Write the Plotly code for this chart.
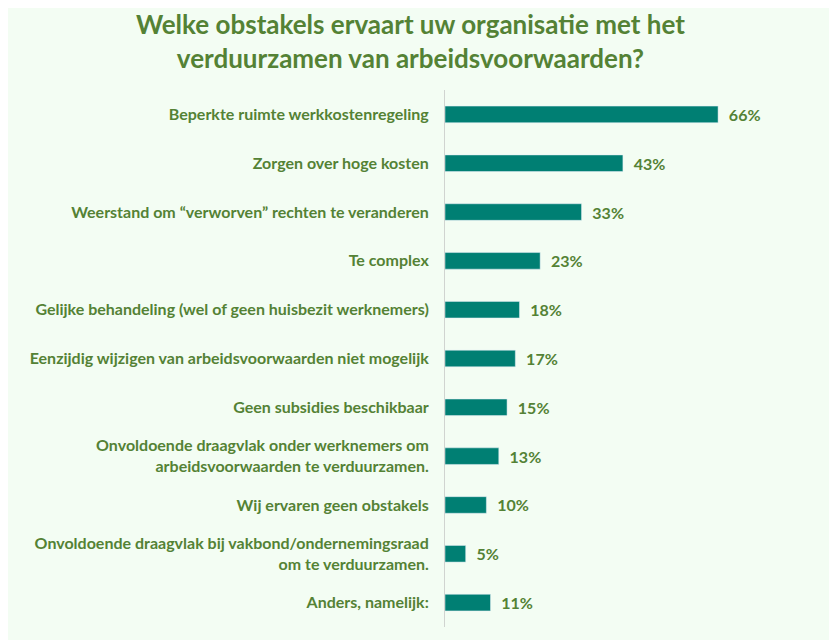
import plotly.graph_objects as go

categories = [
    "Beperkte ruimte werkkostenregeling",
    "Zorgen over hoge kosten",
    "Weerstand om “verworven” rechten te veranderen",
    "Te complex",
    "Gelijke behandeling (wel of geen huisbezit werknemers)",
    "Eenzijdig wijzigen van arbeidsvoorwaarden niet mogelijk",
    "Geen subsidies beschikbaar",
    "Onvoldoende draagvlak onder werknemers om<br>arbeidsvoorwaarden te verduurzamen.",
    "Wij ervaren geen obstakels",
    "Onvoldoende draagvlak bij vakbond/ondernemingsraad<br>om te verduurzamen.",
    "Anders, namelijk:",
]
values = [66, 43, 33, 23, 18, 17, 15, 13, 10, 5, 11]
value_labels = [f"\u00a0\u00a0{v}%" for v in values]

title_text = "Welke obstakels ervaart uw organisatie met het<br>verduurzamen van arbeidsvoorwaarden?"

green = "#548235"
bar_color = "#007F73"
bg = "#F3FDF3"

fig = go.Figure(go.Bar(
    x=values,
    y=categories,
    orientation="h",
    marker=dict(color=bar_color),
    width=0.34,
    text=value_labels,
    textposition="outside",
    constraintext="none",
    textfont=dict(family="Lato", size=16, color=green, weight="bold"),
    cliponaxis=False,
    hoverinfo="skip",
))

fig.add_annotation(
    text=title_text, xref="paper", yref="paper",
    x=-0.103, y=1.092, xanchor="center", yanchor="middle",
    showarrow=False, align="center",
    font=dict(family="Lato", size=26, color=green, weight="bold"),
)

fig.update_layout(
    width=837, height=640,
    paper_bgcolor=bg, plot_bgcolor=bg,
    margin=dict(l=437, r=69, t=82, b=21, autoexpand=False),
    showlegend=False,
    xaxis=dict(range=[0, 80], visible=False, fixedrange=True, automargin=False),
    yaxis=dict(
        autorange="reversed", automargin=False,
        showline=True, linecolor="#D0D4D0", linewidth=1,
        ticks="outside", ticklen=12, tickcolor=bg,
        tickfont=dict(family="Lato", size=16, color=green, weight="bold"),
        showgrid=False, fixedrange=True,
    ),
)

fig.write_html("out.html")
